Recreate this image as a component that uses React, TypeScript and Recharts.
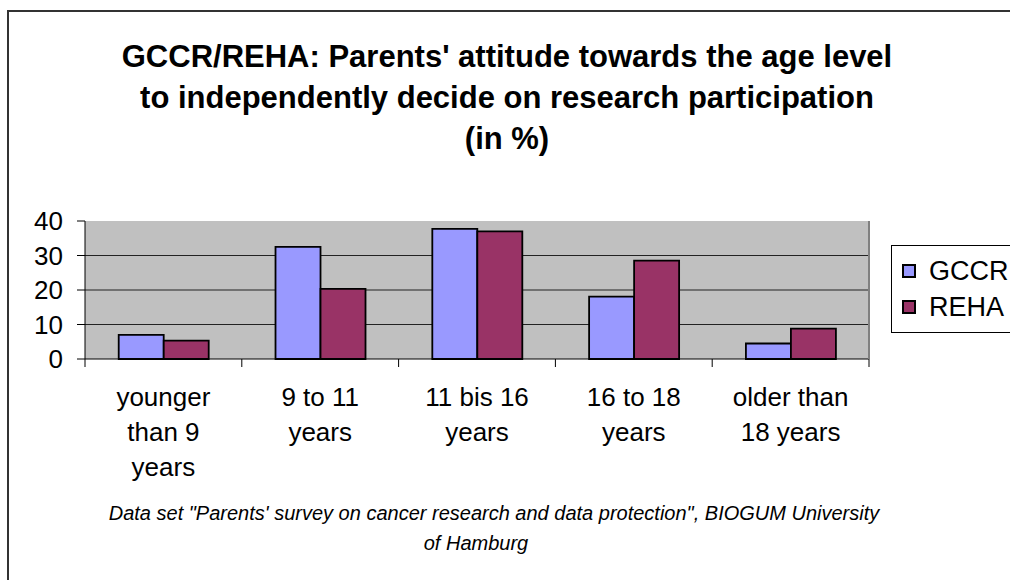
import React from "react";
import { BarChart, Bar, XAxis, YAxis, CartesianGrid } from "recharts";

const categories = [
  "younger than 9 years",
  "9 to 11 years",
  "11 bis 16 years",
  "16 to 18 years",
  "older than 18 years",
];
const categoryLines = [
  ["younger", "than 9", "years"],
  ["9 to 11", "years"],
  ["11 bis 16", "years"],
  ["16 to 18", "years"],
  ["older than", "18 years"],
];
const gccrValues = [7, 32.5, 37.7, 18.1, 4.5];
const rehaValues = [5.3, 20.3, 37.0, 28.5, 8.8];
const yTicks = [0, 10, 20, 30, 40];

const titleLines = [
  "GCCR/REHA: Parents' attitude towards the age level",
  "to independently decide on research participation",
  "(in %)",
];
const footnoteLines = [
  "Data set \"Parents' survey on cancer research and data protection\", BIOGUM University",
  "of Hamburg",
];

const data = categories.map((name, i) => ({
  name,
  GCCR: gccrValues[i],
  REHA: rehaValues[i],
}));

const FONT = "'Liberation Sans', Arial, sans-serif";
const GCCR_COLOR = "#9999FF";
const REHA_COLOR = "#993366";

function CategoryTick(props: any) {
  const { x, y, payload } = props;
  const half = payload.offset ?? 78.4;
  const idx = payload.index ?? 0;
  const lines = categoryLines[idx] || [String(payload.value)];
  const isLast = idx === categories.length - 1;
  return (
    <g>
      <line x1={x - half} x2={x - half} y1={y - 8} y2={y} stroke="#000" />
      {isLast && (
        <line x1={x + half} x2={x + half} y1={y - 8} y2={y} stroke="#000" />
      )}
      <text
        x={x}
        y={y + 39}
        textAnchor="middle"
        fontFamily={FONT}
        fontSize={26}
        fill="#000"
      >
        {lines.map((l, i) => (
          <tspan key={i} x={x} dy={i === 0 ? 0 : 35}>
            {l}
          </tspan>
        ))}
      </text>
    </g>
  );
}

function LegendBox() {
  const items = [
    { label: "GCCR", color: GCCR_COLOR },
    { label: "REHA", color: REHA_COLOR },
  ];
  return (
    <div
      style={{
        position: "absolute",
        left: 891,
        top: 245,
        border: "1px solid #000",
        background: "#fff",
        width: 140,
        height: 88,
        boxSizing: "border-box",
        paddingTop: 7,
        paddingLeft: 10,
      }}
    >
      {items.map((it) => (
        <div
          key={it.label}
          style={{
            display: "flex",
            alignItems: "center",
            height: 36,
            fontFamily: FONT,
            fontSize: 27,
            color: "#000",
          }}
        >
          <span
            style={{
              display: "inline-block",
              width: 10,
              height: 10,
              border: "2px solid #000",
              background: it.color,
              marginRight: 13,
            }}
          />
          {it.label}
        </div>
      ))}
    </div>
  );
}

export default function App() {
  return (
    <div
      style={{
        position: "absolute",
        left: 0,
        top: 0,
        width: 1010,
        height: 580,
        overflow: "hidden",
        background: "#fff",
      }}
    >
      <div
        style={{
          position: "absolute",
          left: 7,
          top: 10,
          width: 1100,
          height: 700,
          border: "2px solid #333",
        }}
      />
      <div
        style={{
          position: "absolute",
          left: 2,
          top: 36,
          width: 1010,
          textAlign: "center",
          fontFamily: FONT,
          fontWeight: "bold",
          fontSize: 31,
          lineHeight: "41px",
          color: "#000",
        }}
      >
        {titleLines.map((l) => (
          <div key={l}>{l}</div>
        ))}
      </div>
      <div style={{ position: "absolute", left: 0, top: 0 }}>
        <BarChart
          width={1010}
          height={580}
          data={data}
          margin={{ top: 221, right: 140, bottom: 101, left: 25 }}
          barCategoryGap="21.5%"
          barGap={0}
        >
          <CartesianGrid
            vertical={false}
            fill="#C0C0C0"
            stroke="#222"
            horizontalValues={[10, 20, 30]}
          />
          <XAxis
            dataKey="name"
            height={120}
            axisLine={{ stroke: "#000", strokeWidth: 1 }}
            tickLine={false}
            tick={<CategoryTick />}
            interval={0}
          />
          <YAxis
            width={60}
            domain={[0, 40]}
            ticks={yTicks}
            interval={0}
            axisLine={{ stroke: "#000" }}
            tickLine={{ stroke: "#000" }}
            tickSize={8}
            tickMargin={14}
            tick={{ fontFamily: FONT, fontSize: 26, fill: "#000" }}
          />
          <YAxis
            yAxisId="frame"
            orientation="right"
            width={1}
            domain={[0, 40]}
            tick={false}
            tickLine={false}
            axisLine={{ stroke: "#808080", strokeWidth: 2 }}
          />
          <XAxis
            xAxisId="frameTop"
            orientation="top"
            dataKey="name"
            height={0}
            tick={false}
            tickLine={false}
            axisLine={{ stroke: "#808080", strokeWidth: 2 }}
          />
          <Bar
            dataKey="GCCR"
            fill={GCCR_COLOR}
            stroke="#000"
            strokeWidth={1.8}
            isAnimationActive={false}
          />
          <Bar
            dataKey="REHA"
            fill={REHA_COLOR}
            stroke="#000"
            strokeWidth={1.8}
            isAnimationActive={false}
          />
        </BarChart>
      </div>
      <LegendBox />
      <div
        style={{
          position: "absolute",
          left: 94,
          top: 498,
          width: 800,
          textAlign: "center",
          fontFamily: FONT,
          fontStyle: "italic",
          fontSize: 20,
          lineHeight: "30px",
          color: "#000",
        }}
      >
        {footnoteLines.map((l, i) => (
          <div key={l} style={{ paddingRight: i === 1 ? 36 : 0 }}>
            {l}
          </div>
        ))}
      </div>
    </div>
  );
}
